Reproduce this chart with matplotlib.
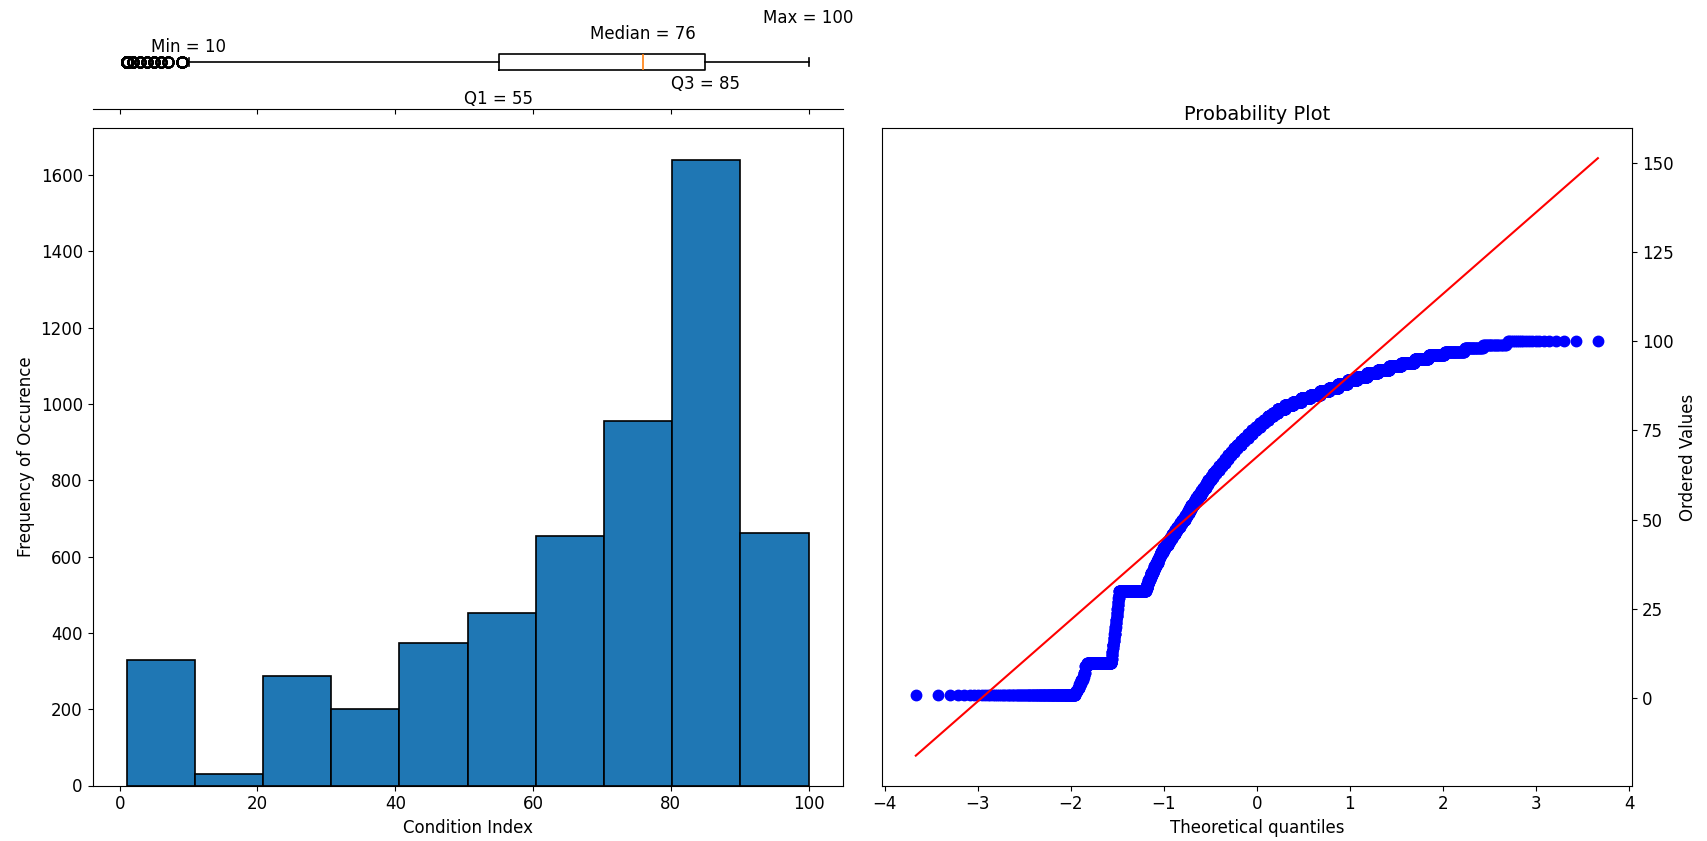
import numpy as np
import matplotlib
matplotlib.use("Agg")
import matplotlib.pyplot as plt
from statistics import NormalDist

# ---- data: number of records per integer Condition Index value ----
counts_001_010 = [143, 8, 6, 6, 8, 5, 5, 0, 9, 140]
counts_011_020 = [2, 3, 3, 2, 5, 3, 3, 4, 3, 3]
counts_021_030 = [3, 3, 3, 3, 3, 3, 3, 3, 3, 261]
counts_031_040 = [15, 16, 17, 18, 20, 21, 22, 23, 24, 24]
counts_041_050 = [30, 32, 34, 35, 37, 38, 40, 41, 43, 44]
counts_051_060 = [38, 40, 42, 44, 45, 46, 48, 49, 50, 51]
counts_061_070 = [55, 58, 61, 63, 65, 66, 68, 70, 72, 75]
counts_071_080 = [80, 84, 88, 92, 95, 97, 100, 103, 106, 110]
counts_081_090 = [170, 180, 185, 190, 190, 165, 155, 145, 135, 125]
counts_091_100 = [120, 110, 95, 85, 70, 60, 50, 30, 22, 20]
index_values = list(range(1, 101))

# annotation labels for the box plot
stat_names = ["Min", "Q1", "Median", "Q3", "Max"]
stat_values = [10, 55, 76, 85, 100]

counts = (counts_001_010 + counts_011_020 + counts_021_030 + counts_031_040 +
          counts_041_050 + counts_051_060 + counts_061_070 + counts_071_080 +
          counts_081_090 + counts_091_100)
data = np.repeat(np.array(index_values, dtype=float), counts)

W, H = 1707, 841
fig = plt.figure(figsize=(W / 100, H / 100), dpi=100)

def frac(l, t, r, b):
    return [l / W, 1 - b / H, (r - l) / W, (b - t) / H]

FS = 12
ax_hist = fig.add_axes(frac(92.5, 128.3, 842.7, 785.5))
ax_box = fig.add_axes(frac(92.5, 0, 842.7, 109.3), sharex=ax_hist)
ax_qq = fig.add_axes(frac(881.7, 128.3, 1632, 785.5))

# ---- histogram ----
ax_hist.hist(data, bins=10, color="#1f77b4", edgecolor="black", linewidth=1.2)
ax_hist.set_xlabel("Condition Index", fontsize=FS)
ax_hist.set_ylabel("Frequency of Occurence", fontsize=FS)
ax_hist.tick_params(labelsize=FS)

# ---- box plot ----
ax_box.boxplot(data, vert=False, widths=0.32,
               flierprops=dict(marker="o", markersize=7.5, markerfacecolor="none",
                               markeredgecolor="black", markeredgewidth=1.4),
               boxprops=dict(linewidth=1.2), whiskerprops=dict(linewidth=1.2),
               capprops=dict(linewidth=1.2), medianprops=dict(color="#ff7f0e", linewidth=1.2))
ax_box.set_ylim(0, 2.31)
for s in ["top", "left", "right"]:
    ax_box.spines[s].set_visible(False)
ax_box.set_yticks([])
ax_box.tick_params(axis="x", labelbottom=False)
label_y = {"Min": 1.32, "Q1": 0.216, "Median": 1.60, "Q3": 0.54, "Max": 1.92}
for name, val in zip(stat_names, stat_values):
    ax_box.text(val, label_y[name], f"{name} = {val}", ha="center", va="center", fontsize=FS)

# ---- probability plot ----
n = len(data)
osr = np.sort(data)
m = (np.arange(1, n + 1) - 0.3175) / (n + 0.365)
m[-1] = 0.5 ** (1.0 / n)
m[0] = 1 - m[-1]
nd = NormalDist()
osm = np.array([nd.inv_cdf(p) for p in m])
slope, intercept = np.polyfit(osm, osr, 1)
ax_qq.plot(osm, osr, "o", color="blue", markersize=7.5)
ax_qq.plot(osm, slope * osm + intercept, "-", color="red", linewidth=1.5)
ax_qq.set_title("Probability Plot", fontsize=FS + 2)
ax_qq.set_xlabel("Theoretical quantiles", fontsize=FS)
ax_qq.set_ylabel("Ordered Values", fontsize=FS)
ax_qq.yaxis.tick_right()
ax_qq.yaxis.set_label_position("right")
ax_qq.tick_params(labelsize=FS)

fig.savefig("out.png", dpi=100)
